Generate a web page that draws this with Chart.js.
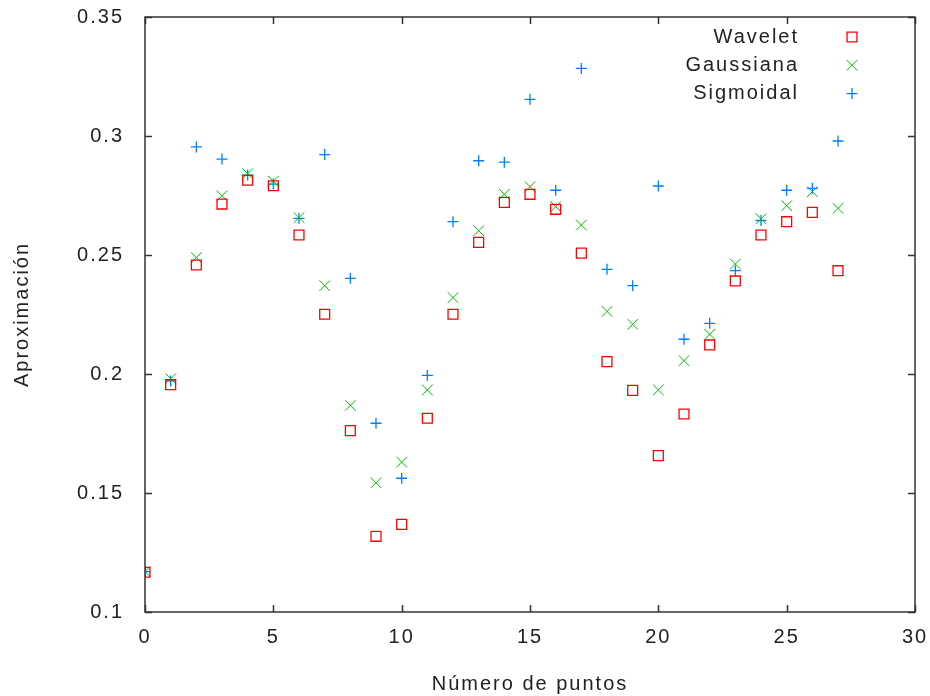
<!DOCTYPE html>
<html>
<head>
<meta charset="utf-8">
<title>Aproximación</title>
<script src="https://cdn.jsdelivr.net/npm/chart.js@4/dist/chart.umd.min.js"></script>
<style>
  body { margin: 0; background: #fff; }
</style>
</head>
<body>
<canvas id="chart" width="930" height="696"></canvas>
<script>
// data
const puntos = [0,1,2,3,4,5,6,7,8,9,10,11,12,13,14,15,16,17,18,19,20,21,22,23,24,25,26,27];
const wavelet = [0.1167,0.1955,0.2458,0.2714,0.2814,0.2791,0.2584,0.2251,0.1762,0.1318,0.1368,0.1814,0.2251,0.2553,
                 0.2721,0.2755,0.2692,0.2508,0.2052,0.1931,0.1657,0.1832,0.2122,0.2391,0.2584,0.2640,0.2679,0.2434];
const gaussiana = [0.1170,0.1980,0.2489,0.2749,0.2842,0.2810,0.2657,0.2371,0.1868,0.1543,0.1630,0.1933,0.2321,0.2602,
                   0.2755,0.2787,0.2703,0.2626,0.2263,0.2209,0.1933,0.2056,0.2167,0.2462,0.2652,0.2707,0.2766,0.2696];
const sigmoidal = [0.1170,0.1971,0.2954,0.2903,0.2836,0.2798,0.2654,0.2922,0.2402,0.1793,0.1562,0.1994,0.2640,0.2896,
                   0.2890,0.3154,0.2772,0.3284,0.2440,0.2371,0.2790,0.2146,0.2213,0.2434,0.2645,0.2772,0.2780,0.2979];
const xTicks = [0, 5, 10, 15, 20, 25, 30];
const yTicks = [0.1, 0.15, 0.2, 0.25, 0.3, 0.35];

const font = "'Liberation Sans', Arial, sans-serif";

function pts(ys) {
  return puntos.map((x, i) => ({ x: x, y: ys[i] }));
}

// gnuplot text is spaced wider than the canvas default
const spacingPlugin = {
  id: 'spacing',
  beforeDraw(chart) {
    chart.ctx.letterSpacing = '2px';
  }
};

// gnuplot style frame with inward ticks on all sides, plus the legend in the top right
const framePlugin = {
  id: 'frame',
  afterDraw(chart) {
    const ctx = chart.ctx;
    const a = chart.chartArea;
    const xs = chart.scales.x, ys = chart.scales.y;
    const tl = 7;
    ctx.save();
    ctx.strokeStyle = '#333';
    ctx.lineWidth = 1.5;
    ctx.strokeRect(a.left, a.top, a.right - a.left, a.bottom - a.top);
    ctx.beginPath();
    xTicks.forEach(v => {
      const px = Math.round(xs.getPixelForValue(v)) + 0.5;
      ctx.moveTo(px, a.bottom); ctx.lineTo(px, a.bottom - tl);
      ctx.moveTo(px, a.top); ctx.lineTo(px, a.top + tl);
    });
    yTicks.forEach(v => {
      const py = Math.round(ys.getPixelForValue(v)) + 0.5;
      ctx.moveTo(a.left, py); ctx.lineTo(a.left + tl, py);
      ctx.moveTo(a.right, py); ctx.lineTo(a.right - tl, py);
    });
    ctx.stroke();

    // legend
    ctx.font = '20px ' + font;
    ctx.letterSpacing = '2px';
    ctx.textAlign = 'right';
    ctx.textBaseline = 'middle';
    chart.data.datasets.forEach((ds, i) => {
      const y = a.top + 20 + i * 28.3;
      ctx.fillStyle = '#222';
      ctx.fillText(ds.label, a.right - 116, y);
      ctx.strokeStyle = ds.borderColor;
      ctx.fillStyle = 'rgba(0,0,0,0)';
      ctx.lineWidth = ds.borderWidth;
      Chart.helpers.drawPoint(ctx, {
        pointStyle: ds.pointStyle, radius: ds.pointRadius, rotation: 0, borderWidth: ds.borderWidth
      }, a.right - 63, y);
    });
    ctx.restore();
  }
};

new Chart(document.getElementById('chart').getContext('2d'), {
  type: 'scatter',
  data: {
    datasets: [
      {
        label: 'Wavelet',
        data: pts(wavelet),
        pointStyle: 'rect',
        pointRadius: 7,
        borderColor: '#ff0000',
        backgroundColor: 'rgba(0,0,0,0)',
        borderWidth: 1.3
      },
      {
        label: 'Gaussiana',
        data: pts(gaussiana),
        pointStyle: 'crossRot',
        pointRadius: 7.5,
        borderColor: '#00c000',
        backgroundColor: 'rgba(0,0,0,0)',
        borderWidth: 1
      },
      {
        label: 'Sigmoidal',
        data: pts(sigmoidal),
        pointStyle: 'cross',
        pointRadius: 5.5,
        borderColor: '#0080ff',
        backgroundColor: 'rgba(0,0,0,0)',
        borderWidth: 1.3
      }
    ]
  },
  options: {
    responsive: false,
    animation: false,
    layout: { padding: { left: 0, top: 17, right: 15, bottom: 0 } },
    plugins: {
      legend: { display: false },
      tooltip: { enabled: false }
    },
    elements: { point: { hoverRadius: 7 } },
    scales: {
      x: {
        type: 'linear',
        min: 0,
        max: 30,
        afterBuildTicks: s => { s.ticks = xTicks.map(v => ({ value: v })); },
        afterFit: s => { s.height = 84; s.paddingLeft = 0; s.paddingRight = 0; },
        grid: { display: false, drawTicks: false },
        border: { display: false },
        ticks: { color: '#222', padding: 13, font: { family: font, size: 20 } },
        title: {
          display: true,
          text: 'Número de puntos',
          color: '#222',
          font: { family: font, size: 20 },
          padding: { top: 0, bottom: 0 }
        }
      },
      y: {
        type: 'linear',
        min: 0.1,
        max: 0.35,
        afterBuildTicks: s => { s.ticks = yTicks.map(v => ({ value: v })); },
        afterFit: s => { s.width = 145; s.paddingTop = 0; s.paddingBottom = 0; },
        grid: { display: false, drawTicks: false },
        border: { display: false },
        ticks: {
          color: '#222',
          padding: 21,
          font: { family: font, size: 20 },
          callback: v => String(+v.toFixed(2))
        },
        title: {
          display: true,
          text: 'Aproximación',
          color: '#222',
          font: { family: font, size: 20 },
          padding: { top: 10, bottom: 0 }
        }
      }
    }
  },
  plugins: [spacingPlugin, framePlugin]
});
</script>
</body>
</html>
